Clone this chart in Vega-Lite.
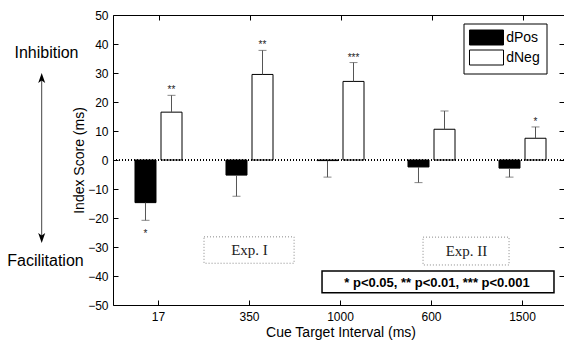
{
  "$schema": "https://vega.github.io/schema/vega-lite/v6.json",
  "width": 451,
  "height": 290,
  "autosize": {"type": "none"},
  "padding": {"left": 113, "top": 15, "right": 0, "bottom": 38},
  "background": "white",
  "config": {
    "view": {"stroke": null},
    "font": "Liberation Sans",
    "axis": {"grid": false, "domainColor": "black", "tickColor": "black", "labelColor": "black", "titleColor": "black", "labelFont": "Liberation Sans", "titleFont": "Liberation Sans", "titleFontWeight": "normal"}
  },
  "datasets": {
    "scores": [
      {"cti": "17", "cond": "dPos", "value": -14.7, "errEnd": -20.8, "sig": "*"},
      {"cti": "17", "cond": "dNeg", "value": 16.5, "errEnd": 22.3, "sig": "**"},
      {"cti": "350", "cond": "dPos", "value": -5.2, "errEnd": -12.5, "sig": ""},
      {"cti": "350", "cond": "dNeg", "value": 29.5, "errEnd": 37.8, "sig": "**"},
      {"cti": "1000", "cond": "dPos", "value": -0.2, "errEnd": -5.9, "sig": ""},
      {"cti": "1000", "cond": "dNeg", "value": 27.1, "errEnd": 33.6, "sig": "***"},
      {"cti": "600", "cond": "dPos", "value": -2.4, "errEnd": -7.8, "sig": ""},
      {"cti": "600", "cond": "dNeg", "value": 10.6, "errEnd": 16.9, "sig": ""},
      {"cti": "1500", "cond": "dPos", "value": -2.8, "errEnd": -5.9, "sig": ""},
      {"cti": "1500", "cond": "dNeg", "value": 7.5, "errEnd": 11.4, "sig": "*"}
    ],
    "expBoxes": [
      {"x1": 1.5, "x2": 2.49, "y1": -26.5, "y2": -35.6},
      {"x1": 3.907, "x2": 4.852, "y1": -26.6, "y2": -36.2}
    ],
    "expLabels": [
      {"x": 2.0, "y": -32.8, "text": "Exp. I"},
      {"x": 4.385, "y": -33.0, "text": "Exp. II"}
    ],
    "pBox": [
      {"x1": 2.797, "x2": 5.346, "y1": -38.3, "y2": -45.8, "xc": 4.06, "yb": -43.9, "text": "* p<0.05, ** p<0.01, *** p<0.001"}
    ],
    "sideLabels": [
      {"x": -0.231, "y": 35.1, "text": "Inhibition"},
      {"x": -0.242, "y": -36.5, "text": "Facilitation"}
    ],
    "arrow": [
      {"x": -0.2835, "top": 28.3, "bottom": -26.9}
    ]
  },
  "layer": [
    {
      "data": {"name": "scores"},
      "layer": [
        {
          "mark": {"type": "bar", "stroke": "black", "strokeWidth": 1},
          "encoding": {
            "x": {
              "field": "cti", "type": "nominal", "sort": ["17", "350", "1000", "600", "1500"],
              "scale": {"range": [0, 455], "paddingInner": 0, "paddingOuter": 0},
              "axis": {"orient": "bottom", "title": "Cue Target Interval (ms)", "labelAngle": 0, "tickSize": -5, "labelPadding": 11, "labelFontSize": 12, "titleFontSize": 14, "titlePadding": 3}
            },
            "xOffset": {"field": "cond", "type": "nominal", "sort": ["dPos", "dNeg"], "scale": {"paddingInner": 0.1923, "paddingOuter": 0.846}},
            "y": {
              "field": "value", "type": "quantitative",
              "scale": {"domain": [-50, 50], "nice": false},
              "axis": {"orient": "left", "title": "Index Score (ms)", "tickCount": 11, "labelOverlap": false, "tickSize": -5, "labelPadding": 10, "labelFontSize": 12, "titleFontSize": 14, "titlePadding": 1}
            },
            "y2": {"datum": 0},
            "fill": {
              "field": "cond", "type": "nominal",
              "scale": {"domain": ["dPos", "dNeg"], "range": ["black", "white"]},
              "legend": {"title": null, "orient": "none", "legendX": 350.5, "legendY": 8.5, "symbolType": "M-2.267,-1H2.267V1H-2.267Z", "symbolSize": 225, "symbolOffset": 9, "symbolStrokeColor": "black", "symbolStrokeWidth": 1, "labelFont": "Liberation Sans", "labelFontSize": 14, "labelColor": "black", "labelOffset": 11.7, "labelExpr": "datum.label + '\u00a0\u00a0'", "strokeColor": "black", "fillColor": "white", "padding": 6, "rowPadding": 0}
            }
          }
        },
        {
          "mark": {"type": "rule", "color": "black", "strokeDash": [1, 2], "strokeWidth": 0.8},
          "encoding": {"y": {"datum": 0, "type": "quantitative"}}
        },
        {
          "mark": {"type": "rule", "color": "#555555", "strokeWidth": 1},
          "encoding": {
            "x": {"field": "cti", "type": "nominal", "sort": ["17", "350", "1000", "600", "1500"]},
            "xOffset": {"field": "cond", "type": "nominal", "sort": ["dPos", "dNeg"]},
            "y": {"field": "value", "type": "quantitative"},
            "y2": {"field": "errEnd"}
          }
        },
        {
          "mark": {"type": "tick", "color": "#555555", "size": 8, "thickness": 1},
          "encoding": {
            "x": {"field": "cti", "type": "nominal", "sort": ["17", "350", "1000", "600", "1500"]},
            "xOffset": {"field": "cond", "type": "nominal", "sort": ["dPos", "dNeg"]},
            "y": {"field": "errEnd", "type": "quantitative"}
          }
        },
        {
          "transform": [{"filter": "datum.sig != '' && datum.errEnd > 0"}],
          "mark": {"type": "text", "fontSize": 10, "color": "#222222", "baseline": "alphabetic", "dy": -2},
          "encoding": {
            "x": {"field": "cti", "type": "nominal", "sort": ["17", "350", "1000", "600", "1500"]},
            "xOffset": {"field": "cond", "type": "nominal", "sort": ["dPos", "dNeg"]},
            "y": {"field": "errEnd", "type": "quantitative"},
            "text": {"field": "sig"}
          }
        },
        {
          "transform": [{"filter": "datum.sig != '' && datum.errEnd < 0"}],
          "mark": {"type": "text", "fontSize": 10, "color": "#222222", "baseline": "alphabetic", "dy": 17},
          "encoding": {
            "x": {"field": "cti", "type": "nominal", "sort": ["17", "350", "1000", "600", "1500"]},
            "xOffset": {"field": "cond", "type": "nominal", "sort": ["dPos", "dNeg"]},
            "y": {"field": "errEnd", "type": "quantitative"},
            "text": {"field": "sig"}
          }
        }
      ]
    },
    {
      "layer": [
        {
          "data": {"name": "expBoxes"},
          "mark": {"type": "rect", "fill": null, "stroke": "#888888", "strokeWidth": 1, "strokeDash": [1, 2]},
          "encoding": {
            "x": {
              "field": "x1", "type": "quantitative",
              "scale": {"domain": [0.5, 5.5], "range": [0, 455], "nice": false, "zero": false},
              "axis": {"orient": "top", "title": null, "values": [1, 2, 3, 4, 5], "labels": false, "tickSize": -5, "domain": true}
            },
            "x2": {"field": "x2"},
            "y": {
              "field": "y1", "type": "quantitative",
              "scale": {"domain": [-50, 50], "nice": false},
              "axis": {"orient": "right", "title": null, "tickCount": 11, "labels": false, "tickSize": -5, "domain": false}
            },
            "y2": {"field": "y2"}
          }
        },
        {
          "data": {"name": "expLabels"},
          "mark": {"type": "text", "font": "Liberation Serif", "fontSize": 15, "color": "#222222", "align": "center", "baseline": "alphabetic"},
          "encoding": {
            "x": {"field": "x", "type": "quantitative"},
            "y": {"field": "y", "type": "quantitative"},
            "text": {"field": "text"}
          }
        },
        {
          "data": {"name": "pBox"},
          "mark": {"type": "rect", "fill": "white", "stroke": "black", "strokeWidth": 1.5},
          "encoding": {
            "x": {"field": "x1", "type": "quantitative"},
            "x2": {"field": "x2"},
            "y": {"field": "y1", "type": "quantitative"},
            "y2": {"field": "y2"}
          }
        },
        {
          "data": {"name": "pBox"},
          "mark": {"type": "text", "font": "Liberation Sans", "fontSize": 13, "fontWeight": "bold", "color": "black", "align": "center", "baseline": "alphabetic"},
          "encoding": {
            "x": {"field": "xc", "type": "quantitative"},
            "y": {"field": "yb", "type": "quantitative"},
            "text": {"field": "text"}
          }
        },
        {
          "data": {"name": "sideLabels"},
          "mark": {"type": "text", "font": "Liberation Sans", "fontSize": 16, "color": "black", "align": "center", "baseline": "alphabetic"},
          "encoding": {
            "x": {"field": "x", "type": "quantitative"},
            "y": {"field": "y", "type": "quantitative"},
            "text": {"field": "text"}
          }
        },
        {
          "data": {"name": "arrow"},
          "mark": {"type": "rule", "color": "#444444", "strokeWidth": 1},
          "encoding": {
            "x": {"field": "x", "type": "quantitative"},
            "y": {"field": "top", "type": "quantitative"},
            "y2": {"field": "bottom"}
          }
        },
        {
          "data": {"name": "arrow"},
          "mark": {"type": "point", "shape": "M0,-1L0.7,1L0,0.5L-0.7,1Z", "size": 100, "filled": true, "color": "black", "opacity": 1},
          "encoding": {
            "x": {"field": "x", "type": "quantitative"},
            "y": {"field": "top", "type": "quantitative"}
          }
        },
        {
          "data": {"name": "arrow"},
          "mark": {"type": "point", "shape": "M0,1L0.7,-1L0,-0.5L-0.7,-1Z", "size": 100, "filled": true, "color": "black", "opacity": 1},
          "encoding": {
            "x": {"field": "x", "type": "quantitative"},
            "y": {"field": "bottom", "type": "quantitative"}
          }
        }
      ]
    }
  ],
  "resolve": {
    "scale": {"x": "independent", "y": "independent"},
    "axis": {"x": "independent", "y": "independent"}
  }
}
